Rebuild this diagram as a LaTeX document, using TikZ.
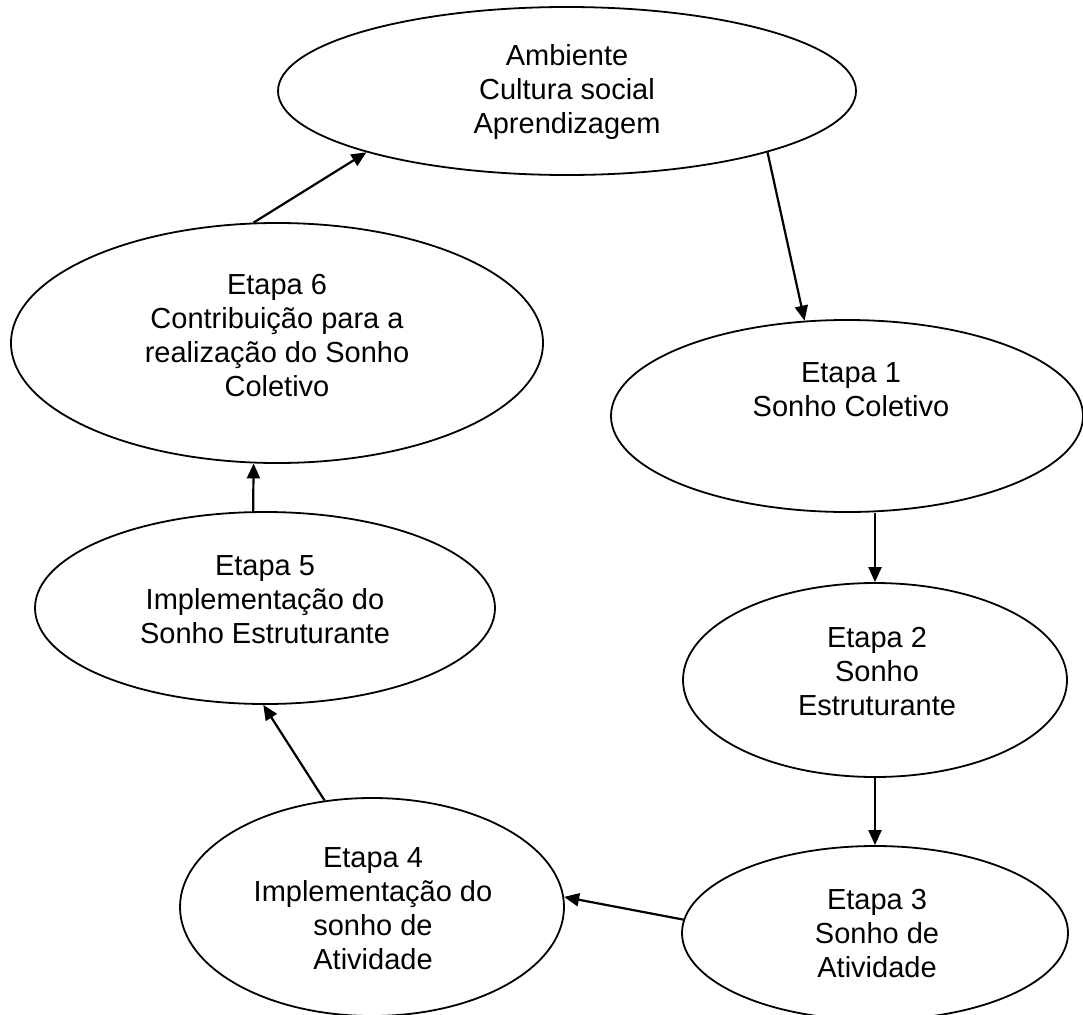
\documentclass[tikz,border=0pt]{standalone}
\usepackage{fontspec}
\setmainfont{Liberation Sans}
\usetikzlibrary{shapes.geometric,arrows.meta}
\begin{document}
\begin{tikzpicture}[x=1pt,y=-1pt,
  stage/.style={ellipse, draw, line width=1.8pt, inner sep=0pt, fill=white},
  lbl/.style={align=center, font=\fontsize{29}{34}\selectfont, inner sep=0pt},
  arr/.style={line width=2.2pt, -{Triangle[length=15pt,width=13pt]}}]
\useasboundingbox (0,0) rectangle (1083,1014);
\clip (0,0) rectangle (1083,1014);
\fill[white] (0,0) rectangle (1083,1014);
% stages
\node[stage, minimum width=578pt, minimum height=168pt] (A)  at (567,91)  {};
\node[stage, minimum width=532pt, minimum height=240pt] (E6) at (277,343) {};
\node[stage, minimum width=472pt, minimum height=192pt] (E1) at (847,416) {};
\node[stage, minimum width=384pt, minimum height=194pt] (E2) at (875,680) {};
\node[stage, minimum width=386pt, minimum height=174pt] (E3) at (875,933) {};
\node[stage, minimum width=384pt, minimum height=218pt] (E4) at (372,907) {};
\node[stage, minimum width=460pt, minimum height=192pt] (E5) at (265,608) {};
% labels
\node[lbl] (At)  at (567,92)  {Ambiente\\Cultura social\\Aprendizagem};
\node[lbl] (E6t) at (277,336) {Etapa 6\\Contribuição para a\\realização do Sonho\\Coletivo};
\node[lbl] (E1t) at (851,390) {Etapa 1\\Sonho Coletivo};
\node[lbl] (E2t) at (877,672) {Etapa 2\\Sonho\\Estruturante};
\node[lbl] (E3t) at (877,934) {Etapa 3\\Sonho de\\Atividade};
\node[lbl] (E4t) at (373,909) {Etapa 4\\Implementação do\\sonho de\\Atividade};
\node[lbl] (E5t) at (265,600) {Etapa 5\\Implementação do\\Sonho Estruturante};
% connectors
\draw[arr] (A.-17) -- (E1.114);
\draw[arr] (E1.south -| E2.north) -- (E2.north);
\draw[arr] (E2.south) -- (E3.north);
\draw[arr] (E3.176) -- (E4.3);
\draw[arr] (E4.114) -- (E5.-91);
\draw[arr] (E5.97) -- (E6.-101);
\draw[arr] (E6.101) -- (A.197);
\end{tikzpicture}
\end{document}
